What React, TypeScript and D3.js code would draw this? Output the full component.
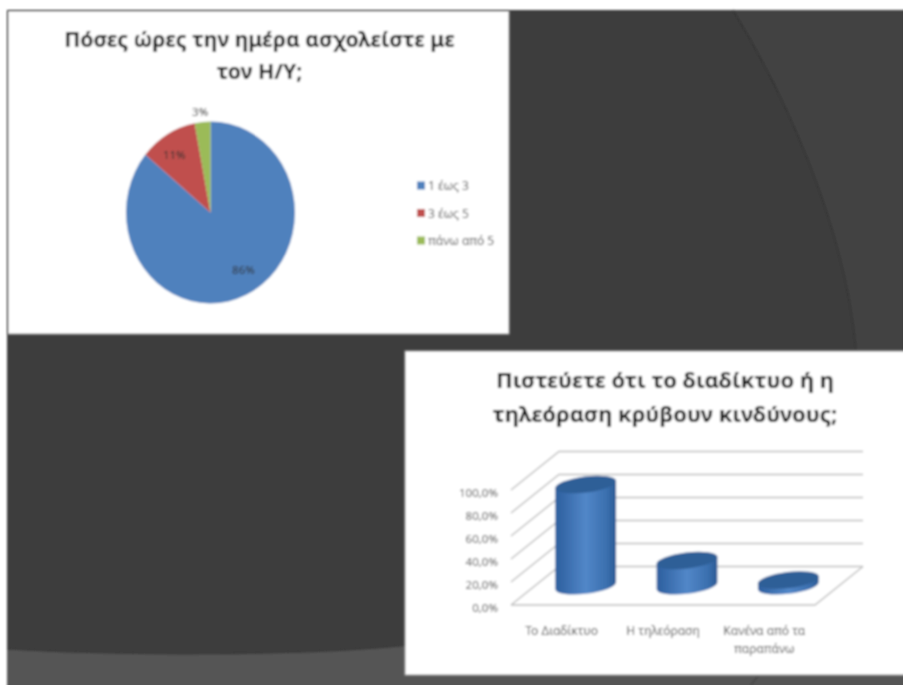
import React from "react";
import * as d3 from "d3";

const pieTitle = ["Πόσες ώρες την ημέρα ασχολείστε με", "τον Η/Υ;"];
const pieCategories = ["1 έως 3", "3 έως 5", "πάνω από 5"];
const pieValues = [86, 11, 3];
const pieColors = ["#4f81bd", "#c0504d", "#9bbb59"];

const barTitle = ["Πιστεύετε ότι το διαδίκτυο ή η", "τηλεόραση κρύβουν κινδύνους;"];
const barCategories = [["Το Διαδίκτυο"], ["Η τηλεόραση"], ["Κανένα από τα", "παραπάνω"]];
const barValues = [88, 22, 5];
const yTicks = [0, 20, 40, 60, 80, 100];

const FONT = "'Noto Sans', 'Open Sans', sans-serif";

export default function App() {
  // pie
  const cx = 210.5, cy = 212.5, rx = 84.5, ry = 91;
  const arcs = d3.pie<number>().sort(null)(pieValues);
  const arcGen = d3.arc<d3.PieArcDatum<number>>().innerRadius(0).outerRadius(1);
  const labelShift = [[6, -5], [-4, 1], [-2, -6]];
  const labelR = [0.75, 0.75, 1.05];

  // 3D column chart
  const x = d3.scaleBand<number>().domain([0, 1, 2]).range([511, 815]);
  const y = d3.scaleLinear().domain([0, 100]).range([605, 490]);
  const depthX = 48, depthY = -38.5;
  const r = x.bandwidth() * 0.3;
  const ery = 8, tilt = 3.6, rot = -7;

  return (
    <svg width={903} height={685} style={{ position: "absolute", left: 0, top: 0, display: "block" }} fontFamily={FONT}>
      <defs>
        <filter id="soft" x="-5%" y="-5%" width="110%" height="110%">
          <feGaussianBlur stdDeviation="1" />
        </filter>
        <filter id="soft2" x="-5%" y="-5%" width="110%" height="110%">
          <feGaussianBlur stdDeviation="0.9" />
        </filter>
        <linearGradient id="cyl" x1="0" x2="1" y1="0" y2="0">
          <stop offset="0" stopColor="#2c5f9e" />
          <stop offset="0.12" stopColor="#3568a8" />
          <stop offset="0.5" stopColor="#5287c8" />
          <stop offset="0.85" stopColor="#3a6fae" />
          <stop offset="1" stopColor="#2a5a94" />
        </linearGradient>
      </defs>
      <rect width={903} height={685} fill="#ffffff" />
      <g filter="url(#soft2)">
        <rect x={7} y={10} width={920} height={700} fill="#3c3c3c" />
        <path d="M733,10 C785,95 845,225 856,350 L903,350 L903,10 Z" fill="#434343" />
        <path d="M733,10 C785,95 845,225 856,350" fill="none" stroke="#343434" strokeWidth={1.5} />
        <path d="M7,649 C100,655 300,657 410,645 L920,645 L920,710 L7,710 Z" fill="#555555" />
        <path d="M7,649 C100,655 300,657 410,645" fill="none" stroke="#363636" strokeWidth={1.2} />
        <path d="M758,676 L751,685" stroke="#484848" strokeWidth={2} />
      </g>

      {/* pie card */}
      <g filter="url(#soft)">
        <rect x={8} y={11} width={501} height={323} fill="#ffffff" stroke="#b0b0b0" strokeWidth={1} />
        {pieTitle.map((t, i) => (
          <text key={t} x={259.5} y={47 + i * 32} textAnchor="middle" fontSize={21.2} fontWeight={700} fill="#000000">{t}</text>
        ))}
        <g transform={`translate(${cx},${cy}) scale(${rx},${ry})`}>
          {arcs.map((a, i) => (
            <path key={i} d={arcGen(a) as string} fill={pieColors[i]} />
          ))}
        </g>
        {arcs.map((a, i) => {
          const mid = (a.startAngle + a.endAngle) / 2;
          return (
            <text key={i} x={cx + Math.sin(mid) * rx * labelR[i] + labelShift[i][0]} y={cy - Math.cos(mid) * ry * labelR[i] + labelShift[i][1]}
              textAnchor="middle" dominantBaseline="central" fontSize={11.5} fill="#303030">
              {pieValues[i]}%
            </text>
          );
        })}
        {pieCategories.map((c, i) => (
          <g key={c}>
            <rect x={417} y={181.5 + i * 27.5} width={8} height={8} fill={pieColors[i]} />
            <text x={428} y={185.5 + i * 27.5} dominantBaseline="central" fontSize={12} fill="#505050">{c}</text>
          </g>
        ))}
      </g>

      {/* column card */}
      <g filter="url(#soft)">
        <rect x={405} y={351} width={520} height={324} fill="#ffffff" stroke="#b0b0b0" strokeWidth={1} />
        {barTitle.map((t, i) => (
          <text key={t} x={665} y={388 + i * 34} textAnchor="middle" fontSize={22} fontWeight={700} fill="#000000">{t}</text>
        ))}
        {yTicks.map((t) => (
          <g key={t}>
            <path
              d={`M${x.range()[0]},${y(t)} L${x.range()[0] + depthX},${y(t) + depthY} L${x.range()[1] + depthX},${y(t) + depthY}`}
              fill="none" stroke="#bcbcbc" strokeWidth={1.4} />
            <text x={498} y={y(t) + 2} textAnchor="end" dominantBaseline="central" fontSize={11.5} fill="#505050">
              {t.toFixed(1).replace(".", ",")}%
            </text>
          </g>
        ))}
        <path
          d={`M${x.range()[0]},${y(0)} L${x.range()[1]},${y(0)} L${x.range()[1] + depthX},${y(0) + depthY}`}
          fill="none" stroke="#bcbcbc" strokeWidth={1.4} />
        {barValues.map((v, i) => {
          const c = (x(i) as number) + x.bandwidth() / 2 + depthX / 2;
          const yb = y(0) + depthY / 2;
          const yt = yb - (y(0) - y(v));
          return (
            <g key={i}>
              <path
                d={`M${c - r},${yt + tilt} L${c - r},${yb + tilt} A${r},${ery},${rot},0,0,${c + r},${yb - tilt} L${c + r},${yt - tilt} Z`}
                fill="url(#cyl)" />
              <ellipse cx={c} cy={yt} rx={r + 0.3} ry={ery} transform={`rotate(${rot} ${c} ${yt})`} fill="#2f5f97" />
            </g>
          );
        })}
        {barCategories.map((lines, i) => (
          <text key={i} textAnchor="middle" fontSize={12} fill="#505050">
            {lines.map((l, j) => (
              <tspan key={l} x={(x(i) as number) + x.bandwidth() / 2} y={635 + j * 18}>{l}</tspan>
            ))}
          </text>
        ))}
      </g>
    </svg>
  );
}
